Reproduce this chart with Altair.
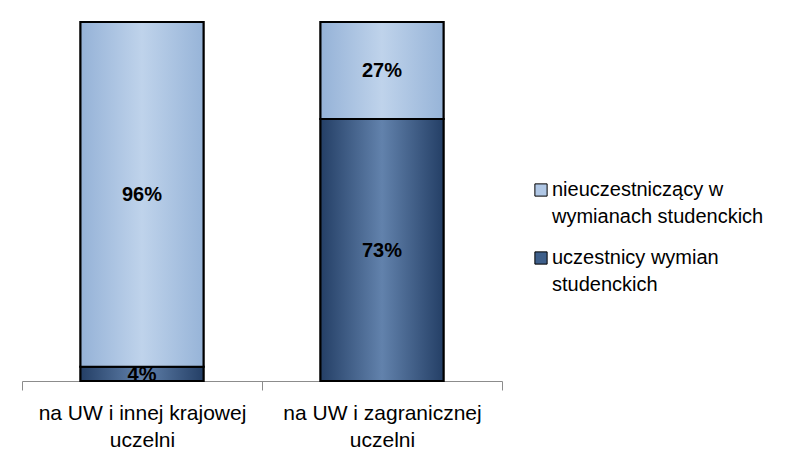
import altair as alt
import pandas as pd

categories = ["na UW i innej krajowej\nuczelni", "na UW i zagranicznej\nuczelni"]
series = ["uczestnicy wymian\nstudenckich", "nieuczestniczący w\nwymianach studenckich"]
participants = [4, 73]
non_participants = [96, 27]

rows = []
for i, c in enumerate(categories):
    rows.append({"cat": c, "series": series[0], "order": 0, "value": participants[i]})
    rows.append({"cat": c, "series": series[1], "order": 1, "value": non_participants[i]})
df = pd.DataFrame(rows)

light = alt.Gradient(gradient="linear", x1=0, x2=1, y1=0, y2=0,
                     stops=[alt.GradientStop(color="#95B2D7", offset=0),
                            alt.GradientStop(color="#BFD3EB", offset=0.5),
                            alt.GradientStop(color="#97B4D8", offset=1)])
dark = alt.Gradient(gradient="linear", x1=0, x2=1, y1=0, y2=0,
                    stops=[alt.GradientStop(color="#243F66", offset=0),
                           alt.GradientStop(color="#6282AC", offset=0.5),
                           alt.GradientStop(color="#243F66", offset=1)])

x_enc = alt.X("cat:N", sort=categories, title=None,
              scale=alt.Scale(paddingInner=0, paddingOuter=0),
              axis=alt.Axis(labelExpr="split(datum.label, '\\n')", labelAngle=0,
                            labelFontSize=21, labelFont="Liberation Sans", labelColor="black",
                            labelLineHeight=27, labelPadding=12, grid=False, labelLimit=400,
                            domainColor="#8C8C8C", tickColor="#8C8C8C", tickSize=9,
                            tickBand="extent", labelBaseline="top"))
yscale = alt.Scale(domain=[0, 100])
y_enc = alt.Y("sum(value):Q", stack="zero", scale=yscale, axis=None)

base = alt.Chart(df).transform_calculate(o="datum.order")

legend_layer = base.mark_bar(size=123, stroke="black", strokeWidth=2).encode(
    x=x_enc, y=y_enc,
    order=alt.Order("o:Q"),
    color=alt.Color("series:N", sort=[series[1], series[0]],
                    scale=alt.Scale(domain=[series[1], series[0]], range=["#B0C7E5", "#3E5F8A"]),
                    legend=alt.Legend(title=None, orient="none", legendX=509, legendY=158,
                                      symbolType="square", symbolSize=150,
                                      symbolStrokeColor="black", symbolStrokeWidth=1,
                                      labelFontSize=20, labelFont="Liberation Sans",
                                      labelColor="black", rowPadding=21, labelOffset=1,
                                      labelExpr="split(datum.label, '\\n')",
                                      labelLimit=400)),
)

stacked = base.transform_stack(stack="value", groupby=["cat"], as_=["v0", "v1"],
                               sort=[alt.SortField("order")]).transform_calculate(
    mid="(datum.v0 + datum.v1) / 2", lab="datum.value + '%'")

bars_dark = stacked.transform_filter(alt.datum.order == 0).mark_bar(
    size=123, fill=dark, stroke="black", strokeWidth=2).encode(
    x=alt.X("cat:N", sort=categories), y=alt.Y("v0:Q", scale=yscale, axis=None), y2="v1:Q")
bars_light = stacked.transform_filter(alt.datum.order == 1).mark_bar(
    size=123, fill=light, stroke="black", strokeWidth=2).encode(
    x=alt.X("cat:N", sort=categories), y=alt.Y("v0:Q", scale=yscale, axis=None), y2="v1:Q")

labels = stacked.mark_text(fontSize=20, fontWeight="bold", font="Liberation Sans",
                           color="black", baseline="middle", clip=True, dy=1).encode(
    x=alt.X("cat:N", sort=categories), y=alt.Y("mid:Q", scale=yscale, axis=None),
    text="lab:N")

chart = alt.layer(legend_layer, bars_dark, bars_light, labels).properties(
    width=480, height=359,
    autosize=alt.AutoSizeParams(type="none"),
    padding={"left": 14, "top": 14, "right": 282, "bottom": 80},
).configure(
    background="white", style={"guide-label": {"lineHeight": 27}},
    view=alt.ViewConfig(stroke="transparent", strokeWidth=0))

chart.save("out.html", embed_options={"renderer": "svg", "actions": False})
